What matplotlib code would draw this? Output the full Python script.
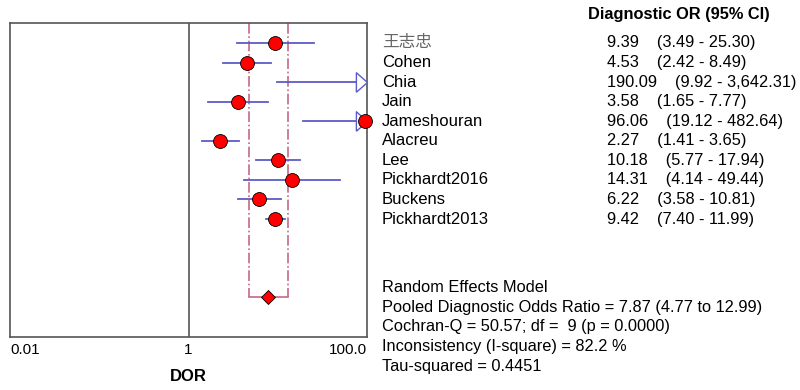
import matplotlib.pyplot as plt
import matplotlib.transforms as mtransforms
import numpy as np

plt.rcParams['font.family'] = ['Liberation Sans', 'Noto Sans CJK SC', 'DejaVu Sans']

#----------------------------------------------------------------#
studies = ['王志忠', 'Cohen', 'Chia', 'Jain', 'Jameshouran', 'Alacreu', 'Lee',
           'Pickhardt2016', 'Buckens', 'Pickhardt2013']
dor = [9.39, 4.53, 190.09, 3.58, 96.06, 2.27, 10.18, 14.31, 6.22, 9.42]
lower = [3.49, 2.42, 9.92, 1.65, 19.12, 1.41, 5.77, 4.14, 3.58, 7.40]
upper = [25.30, 8.49, 3642.31, 7.77, 482.64, 3.65, 17.94, 49.44, 10.81, 11.99]

pooled, pooled_lo, pooled_hi = 7.87, 4.77, 12.99
summary_lines = ['Random Effects Model',
                 'Pooled Diagnostic Odds Ratio = 7.87 (4.77 to 12.99)',
                 'Cochran-Q = 50.57; df =  9 (p = 0.0000)',
                 'Inconsistency (I-square) = 82.2 %',
                 'Tau-squared = 0.4451']
xticks = [0.01, 1, 100]
xticklabels = ['0.01', '1', '100.0']

xmin, xmax = 0.01, 100
ci_color = '#5c5cc8'
dash_color = '#c46a86'
frame_color = '#555555'

#----------------------------------------------------------------#
fig = plt.figure(figsize=(8, 3.9), dpi=100)
ax = fig.add_axes([10/800, 1-337/390, 357/800, 314/390])
ax.set_xscale('log')
ax.set_xlim(xmin, xmax)
ax.set_ylim(15.03, -1.02)
for s in ax.spines.values():
    s.set_color(frame_color)
    s.set_linewidth(1.2)
ax.set_yticks([])
ax.set_xticks(xticks)
ax.set_xticklabels(xticklabels, fontsize=11)
ax.minorticks_off()
ax.tick_params(axis='x', length=0, pad=4)
labs = ax.get_xticklabels()
labs[0].set_ha('left')
labs[-1].set_ha('right')
ax.set_xlabel('DOR', fontsize=12, fontweight='bold', labelpad=9)

ax.axvline(1, color=frame_color, lw=1.2, zorder=1)

# pooled CI band
ypool = len(studies) + 3
ax.plot([pooled_lo, pooled_lo], [-1.02, ypool], color=dash_color, ls='-.', lw=1.2, zorder=1)
ax.plot([pooled_hi, pooled_hi], [-1.02, ypool], color=dash_color, ls='-.', lw=1.2, zorder=1)
ax.plot([pooled_lo, pooled_hi], [ypool, ypool], color=dash_color, ls='-', lw=1.2, zorder=1)
ax.plot([pooled], [ypool], marker='D', ms=7, mfc='red', mec='black', mew=0.6, zorder=4)

arrow = [(-8, -7), (0, 0), (-8, 7), (-8, -7)]
for i, (d, lo, hi) in enumerate(zip(dor, lower, upper)):
    ax.plot([lo, min(hi, xmax)], [i, i], color=ci_color, lw=1.3, zorder=2)
    if hi > xmax:
        ax.plot([xmax], [i], marker=arrow, ms=16, mfc='white', mec=ci_color,
                mew=1.0, clip_on=False, zorder=3, ls='none')
    if d <= xmax:
        ax.plot([d], [i], marker='o', ms=10, mfc='red', mec='black', mew=0.6,
                clip_on=False, zorder=4)

# text columns
tr = mtransforms.blended_transform_factory(fig.transFigure, ax.transData)
fig.text(588/800, 1-14/390, 'Diagnostic OR (95% CI)', fontsize=11.8, fontweight='bold',
         va='center', ha='left')
for i, name in enumerate(studies):
    col = '#666666' if i == 0 else 'black'
    ax.text(382/800, i, name, transform=tr, fontsize=12, va='center', ha='left',
            color=col, clip_on=False)
    ax.text(607/800, i, f'{dor[i]:.2f}    ({lower[i]:,.2f} - {upper[i]:,.2f})',
            transform=tr, fontsize=11.8, va='center', ha='left', clip_on=False)

for k, line in enumerate(summary_lines):
    fig.text(382/800, 1-(288+19.5*k)/390, line, fontsize=11.8, va='center', ha='left')

fig.savefig('out.png', dpi=100)
